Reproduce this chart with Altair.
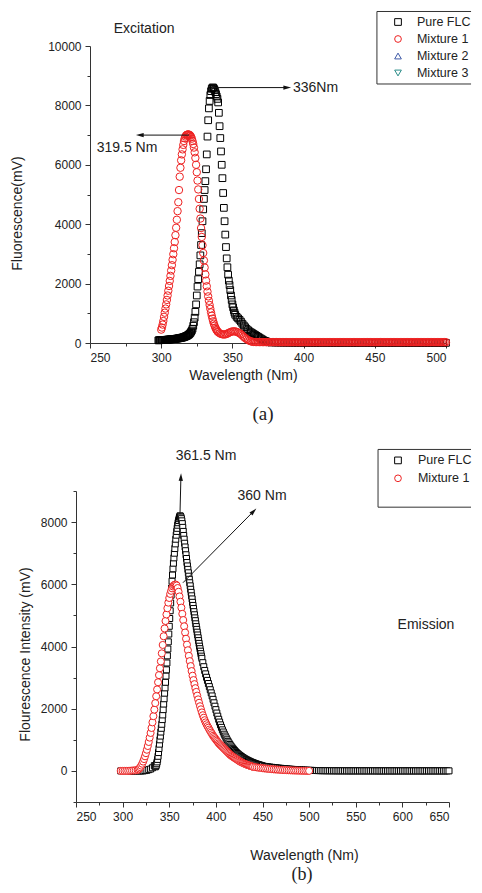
import altair as alt
import pandas as pd


def grid(*segments):
    out = []
    for start, stop, step in segments:
        n = int(round((stop - start) / step)) + 1
        out += [round(start + i * step, 2) for i in range(n)]
    return out


# ---------------- (a) Excitation ----------------
exc_flc_wl = grid((298, 317.5, 0.5), (318, 352, 0.5), (353, 376, 1), (378, 500, 2))
exc_flc_val = [
    90, 92, 95, 97, 100, 100, 100, 102, 105, 105,
    105, 107, 110, 112, 115, 117, 120, 122, 125, 127,
    130, 132, 135, 137, 140, 144, 148, 151, 155, 160,
    165, 170, 175, 180, 185, 192, 200, 210, 220, 230,
    240, 255, 270, 290, 310, 340, 380, 420, 480, 580,
    700, 850, 1050, 1300, 1600, 1900, 2150, 2400, 2650, 2950,
    3300, 3700, 4100, 4500, 4850, 5150, 5450, 5850, 6350, 6950,
    7500, 7900, 8150, 8350, 8480, 8560, 8600, 8600, 8570, 8520,
    8450, 8380, 8300, 8220, 8100, 7750, 7300, 6900, 6450, 6000,
    5550, 5050, 4550, 4100, 3650, 3230, 2850, 2550, 2300, 2100,
    1950, 1780, 1600, 1450, 1300, 1200, 1100, 1020, 950,
    880, 830, 780, 720, 650, 590, 530, 470, 430, 390,
    360, 330, 300, 270, 240, 210, 180, 150, 120, 90,
    70, 50, 35, 25,
    18, 15, 13, 11, 10, 9, 8, 8, 7, 7,
    6, 6, 6, 5, 5, 5, 5, 5, 4, 4,
    4, 4, 4, 4, 4, 4, 3, 3, 3, 3,
    3, 3, 3, 3, 3, 3, 3, 3, 3, 3,
    3, 3, 3, 3, 3, 3, 3, 3, 3, 3,
    3, 3, 3, 3, 3, 3, 3, 3, 3, 3,
    3, 3,
]

exc_m1_wl = grid((300, 340, 0.5), (341, 365, 1), (366, 500, 1))
exc_m1_val = [
    450, 520, 620, 740, 880, 1020, 1160, 1300, 1450, 1600,
    1760, 1920, 2090, 2260, 2440, 2620, 2800, 2990, 3190, 3400,
    3630, 3880, 4150, 4440, 4740, 5150, 5600, 5900, 6150, 6350,
    6520, 6670, 6800, 6890, 6950, 6990, 7010, 7020, 7020, 7020,
    7000, 6980, 6940, 6880, 6800, 6700, 6580, 6420, 6230, 6000,
    5750, 5470, 5170, 4850, 4520, 4190, 3870, 3570, 3290, 3030,
    2780, 2540, 2310, 2100, 1910, 1730, 1570, 1420, 1280, 1150,
    1030, 920, 820, 730, 650, 580, 520, 470, 430, 395,
    365,
    330, 305, 290, 285, 290, 305, 330, 355, 375, 390,
    395, 390, 375, 355, 330, 295, 250, 205, 165, 130,
    100, 75, 55, 42, 35,
    33, 33, 32, 32, 31, 31, 30, 30, 30, 30,
    29, 29, 29, 29, 29, 29, 28, 28, 28, 28,
    28, 29, 28, 28, 27, 28, 28, 28, 29, 28,
    28, 27, 28, 28, 28, 29, 28, 28, 28, 27,
    28, 28, 28, 28, 29, 28, 28, 27, 28, 28,
    28, 28, 29, 28, 28, 28, 27, 28, 28, 28,
    28, 29, 28, 28, 28, 28, 27, 28, 28, 28,
    29, 28, 28, 28, 27, 28, 28, 28, 28, 29,
    28, 28, 28, 28, 27, 28, 28, 28, 29, 28,
    28, 28, 27, 28, 28, 28, 28, 29, 28, 28,
    28, 27, 28, 28, 28, 28, 29, 28, 28, 28,
    28, 27, 28, 28, 28, 29, 28, 28, 28, 28,
    27, 28, 28, 28, 29, 28, 28, 28, 28, 27,
    28, 28, 28, 29, 28,
]

# ---------------- (b) Emission ----------------
emi_flc_wl = grid((298, 334, 2), (335, 385, 0.5), (386, 450, 1), (452, 650, 2))
emi_flc_val = [
    0, 0, 0, 0, 0, 0, 0, 0, 0, 0,
    0, 0, 0, 10, 20, 40, 60, 100, 170,
    130, 150, 180, 230, 290, 370, 470, 590, 720, 860,
    1000, 1120, 1250, 1370, 1500, 1650, 1800, 1970, 2150, 2320,
    2500, 2670, 2850, 3050, 3250, 3470, 3700, 3920, 4150, 4400,
    4650, 4900, 5150, 5400, 5650, 5880, 6100, 6300, 6500, 6680,
    6850, 7000, 7150, 7300, 7450, 7580, 7700, 7800, 7900, 7980,
    8050, 8110, 8160, 8200, 8190, 8160, 8110, 8040, 7950, 7830,
    7700, 7570, 7450, 7320, 7200, 7080, 6950, 6830, 6700, 6590,
    6480, 6370, 6260, 6160, 6050, 5950, 5840, 5740, 5630, 5530,
    5420, 5320, 5220, 5120, 5020, 4920, 4830, 4730, 4640, 4550,
    4460, 4370, 4280, 4190, 4100, 4010, 3930, 3850, 3770, 3690,
    3620,
    3480, 3350, 3230, 3120, 3010, 2910, 2810, 2710, 2610, 2510,
    2410, 2300, 2190, 2080, 1970, 1860, 1760, 1660, 1570, 1480,
    1400, 1320, 1250, 1180, 1120, 1060, 1000, 950, 900, 850,
    805, 765, 725, 690, 655, 620, 590, 560, 535, 510,
    488, 466, 445, 425, 405, 387, 370, 354, 338, 323,
    309, 295, 282, 270, 258, 246, 235, 224, 214, 204,
    195, 186, 177, 169, 161,
    146, 138, 130, 122, 115, 108, 101, 94, 88, 82,
    76, 70, 65, 60, 55, 50, 46, 42, 38, 34,
    31, 28, 25, 22, 19, 17, 15, 13, 11, 9,
    8, 7, 6, 6, 5, 5, 4, 4, 4, 3,
    3, 3, 3, 3, 2, 2, 2, 2, 2, 2,
    2, 2, 2, 2, 2, 2, 2, 2, 2, 2,
    1, 1, 1, 1, 1, 1, 1, 1, 1, 1,
    1, 1, 1, 1, 1, 1, 1, 1, 1, 1,
    1, 1, 1, 1, 1, 1, 1, 1, 1, 1,
    1, 1, 1, 1, 1, 1, 1, 1, 1, 1,
]

emi_m1_wl = grid((298, 314, 2), (316, 440, 1), (442, 500, 2))
emi_m1_val = [
    0, 0, 0, 0, 0, 5, 10, 15, 20,
    30, 50, 80, 120, 170, 230, 300, 380, 470, 570,
    680, 800, 930, 1070, 1220, 1380, 1560, 1760, 1970, 2180,
    2400, 2620, 2850, 3080, 3300, 3520, 3780, 4050, 4330, 4580,
    4820, 5030, 5230, 5410, 5560, 5690, 5790, 5870, 5930, 5970,
    5990, 5990, 5960, 5880, 5760, 5610, 5440, 5250, 5050, 4850,
    4650, 4450, 4250, 4060, 3880, 3700, 3530, 3370, 3210, 3060,
    2920, 2790, 2660, 2540, 2420, 2300, 2190, 2080, 1980, 1880,
    1790, 1710, 1630, 1560, 1500, 1440, 1390, 1330, 1280, 1230,
    1180, 1130, 1090, 1050, 1010, 970, 930, 890, 860, 830,
    800, 770, 740, 710, 680, 650, 620, 590, 560, 530,
    500, 480, 460, 440, 420, 400, 380, 360, 340, 320,
    300, 285, 270, 255, 240, 228, 216, 204, 192, 180,
    170, 160, 150, 140, 130,
    120, 112, 104, 96, 88, 80, 74, 68, 62, 56,
    50, 46, 42, 38, 34, 30, 27, 24, 21, 18,
    15, 13, 11, 9, 7, 5, 4, 3, 2, 1,
]

# annotations (data coordinates)
exc_arrow_from_wl = [336, 319.5]
exc_arrow_from_val = [8600, 7000]
exc_arrow_to_wl = [388.5, 285]
exc_arrow_to_val = [8600, 7000]
exc_head_angle = [90, 270]

emi_arrow_from_wl = [361.5, 364.7]
emi_arrow_from_val = [8250, 6050]
emi_arrow_to_wl = [362.5, 440.5]
emi_arrow_to_val = [9450, 8350]
emi_head_angle = [2, 44]

series_names = ["Pure FLC", "Mixture 1", "Mixture 2", "Mixture 3"]
series_colors = ["#000000", "#ee2222", "#3f5aa8", "#2a8c88"]
series_shapes = ["square", "circle", "triangle-up", "triangle-down"]

FONT = "Liberation Sans"
TXT = "#222222"
ARROW = "M0,-1L0.55,1L-0.55,1Z"


def df(**cols):
    return pd.DataFrame(cols)


def make_x(domain, step, title, tx, ty, rng):
    vals = list(range(domain[0], domain[1] + 1, step // 2))
    return alt.X(
        "wl:Q",
        title=title,
        scale=alt.Scale(domain=domain, range=rng, nice=False, zero=False),
        axis=alt.Axis(
            values=vals,
            format="d",
            labelExpr=f"datum.value % {step} === 0 ? datum.label : ''",
            tickSize={"condition": {"test": f"datum.value % {step} === 0", "value": 5}, "value": 3},
            labelPadding=4,
            titleX=tx,
            titleY=ty,
            titleBaseline="middle",
            grid=False,
        ),
    )


def make_y(domain, title, tx, ty, vals, offset):
    return alt.Y(
        "val:Q",
        title=title,
        scale=alt.Scale(domain=domain, nice=False, zero=False),
        axis=alt.Axis(
            values=vals,
            format="d",
            labelExpr="datum.value % 2000 === 0 ? datum.label : ''",
            tickSize={"condition": {"test": "datum.value % 2000 === 0", "value": 5}, "value": 3},
            labelPadding=4,
            titleX=tx,
            titleY=ty,
            titleBaseline="middle",
            offset=offset,
            grid=False,
        ),
    )


def panel(X, Y, flc, m1, sizes, fill, arrows, heads, texts, left_texts, legend_syms,
          legend_texts, box, caption, cap_xy, cap_size, width, height, spacer_bottom):
    layers = []
    layers.append(alt.Chart(flc).mark_point(
        shape="square", size=sizes[0], filled=True, fill=fill, stroke="black",
        strokeWidth=1, opacity=1).encode(x=X, y=Y))
    layers.append(alt.Chart(m1).mark_point(
        shape="circle", size=sizes[1], filled=True, fill=fill, stroke="#ee2222",
        strokeWidth=1, opacity=1).encode(x=X, y=Y))
    layers.append(alt.Chart(arrows).mark_rule(color="#111111", strokeWidth=1).encode(
        x=X, y=Y, x2="wl2:Q", y2="val2:Q"))
    layers.append(alt.Chart(heads).mark_point(
        shape=ARROW, size=60, filled=True, color="#111111", opacity=1).encode(
        x=X, y=Y, angle=alt.Angle("ang:Q", scale=None)))
    layers.append(alt.Chart(texts).mark_text(
        font=FONT, fontSize=14, color=TXT, align="center", baseline="middle").encode(
        x=X, y=Y, text="label:N"))
    if left_texts is not None:
        layers.append(alt.Chart(left_texts).mark_text(
            font=FONT, fontSize=14, color=TXT, align="left", baseline="middle").encode(
            x=X, y=Y, text="label:N"))
    layers.append(alt.Chart(box).mark_rule(color="#333333", strokeWidth=1).encode(
        x=X, y=Y, x2="wl2:Q", y2="val2:Q"))
    layers.append(alt.Chart(legend_syms).mark_point(
        size=45, filled=True, fill="white", strokeWidth=1, opacity=1).encode(
        x=X, y=Y,
        shape=alt.Shape("shape:N", scale=None),
        stroke=alt.Stroke("col:N", scale=None)))
    layers.append(alt.Chart(legend_texts).mark_text(
        font=FONT, fontSize=12.5, color=TXT, align="left", baseline="middle").encode(
        x=X, y=Y, text="label:N"))
    layers.append(alt.Chart(caption).mark_text(
        font="Liberation Serif", fontSize=cap_size, color=TXT, align="center", baseline="middle").encode(
        x=alt.value(cap_xy[0]), y=alt.value(cap_xy[1]), text="label:N"))
    # white spacer: both panels start at the same left edge
    layers.append(alt.Chart(caption).mark_rule(color="white", strokeWidth=1).encode(
        x=alt.value(-65.5), y=alt.value(100), y2=alt.value(101)))
    if spacer_bottom is not None:
        layers.append(alt.Chart(caption).mark_rule(color="white", strokeWidth=1).encode(
            x=alt.value(100), y=alt.value(spacer_bottom - 1), y2=alt.value(spacer_bottom)))
    return alt.layer(*layers).properties(width=width, height=height)


# ----- top panel (plot area shifted 14 px right inside its cell) -----
X1 = make_x([250, 500], 50, "Wavelength (Nm)", 167, 32, [14, 370])
Y1 = make_y([0, 10000], "Fluorescence(mV)", -73, 167, list(range(0, 10001, 1000)), -14)
top = panel(
    X1, Y1,
    df(wl=exc_flc_wl, val=exc_flc_val),
    df(wl=exc_m1_wl, val=exc_m1_val),
    (45, 55), "transparent",
    df(wl=exc_arrow_from_wl, val=exc_arrow_from_val, wl2=exc_arrow_to_wl, val2=exc_arrow_to_val),
    df(wl=exc_arrow_to_wl, val=exc_arrow_to_val, ang=exc_head_angle),
    df(wl=[276, 288], val=[6566, 10572], label=["319.5 Nm", "Excitation"]),
    df(wl=[392.5], val=[8600], label=["336Nm"]),
    df(wl=[466.3] * 4, val=[10808, 10236, 9663, 9091], shape=series_shapes, col=series_colors),
    df(wl=[479.6] * 4, val=[10808, 10236, 9663, 9091], label=series_names),
    df(wl=[451.5, 451.5, 451.5], val=[11162, 8721, 8721], wl2=[517.6, 517.6, 451.5], val2=[11162, 8721, 11162]),
    df(label=["(a)"]), (187, 368), 19, 370, 297, 384,
)

# ----- bottom panel -----
X2 = make_x([250, 650], 50, "Wavelength (Nm)", 228, 53, [0, 373])
Y2 = make_y([-1000, 9000], "Flourescence Intensity (mV)", -51, 163, list(range(-1000, 9001, 1000)), 0)
bottom = panel(
    X2, Y2,
    df(wl=emi_flc_wl, val=emi_flc_val),
    df(wl=emi_m1_wl, val=emi_m1_val),
    (36, 50), "white",
    df(wl=emi_arrow_from_wl, val=emi_arrow_from_val, wl2=emi_arrow_to_wl, val2=emi_arrow_to_val),
    df(wl=emi_arrow_to_wl, val=emi_arrow_to_val, ang=emi_head_angle),
    df(wl=[389.4, 449.5, 625.3], val=[10112, 8830, 4700], label=["361.5 Nm", "360 Nm", "Emission"]),
    None,
    df(wl=[595.3] * 2, val=[9984, 9408], shape=series_shapes[:2], col=series_colors[:2]),
    df(wl=[616.7] * 2, val=[9984, 9408], label=series_names[:2]),
    df(wl=[573.9, 573.9, 573.9], val=[10336, 8480, 8480], wl2=[673.6, 673.6, 573.9], val2=[10336, 8480, 10336]),
    df(label=["(b)"]), (226, 384), 18, 373, 311, None,
)

chart = alt.concat(top, bottom, columns=1, spacing=17, align="none").properties(
    padding={"left": 2, "top": 2, "right": 0, "bottom": 0},
    background="white",
).configure_view(stroke=None).configure_axis(
    domainColor="#333333", tickColor="#333333", labelColor=TXT, titleColor=TXT,
    labelFont=FONT, titleFont=FONT, labelFontSize=12, titleFontSize=14,
    titleFontWeight="normal", domainWidth=1, tickWidth=1,
)

chart.save("out.html", embed_options={"renderer": "svg", "actions": False})
